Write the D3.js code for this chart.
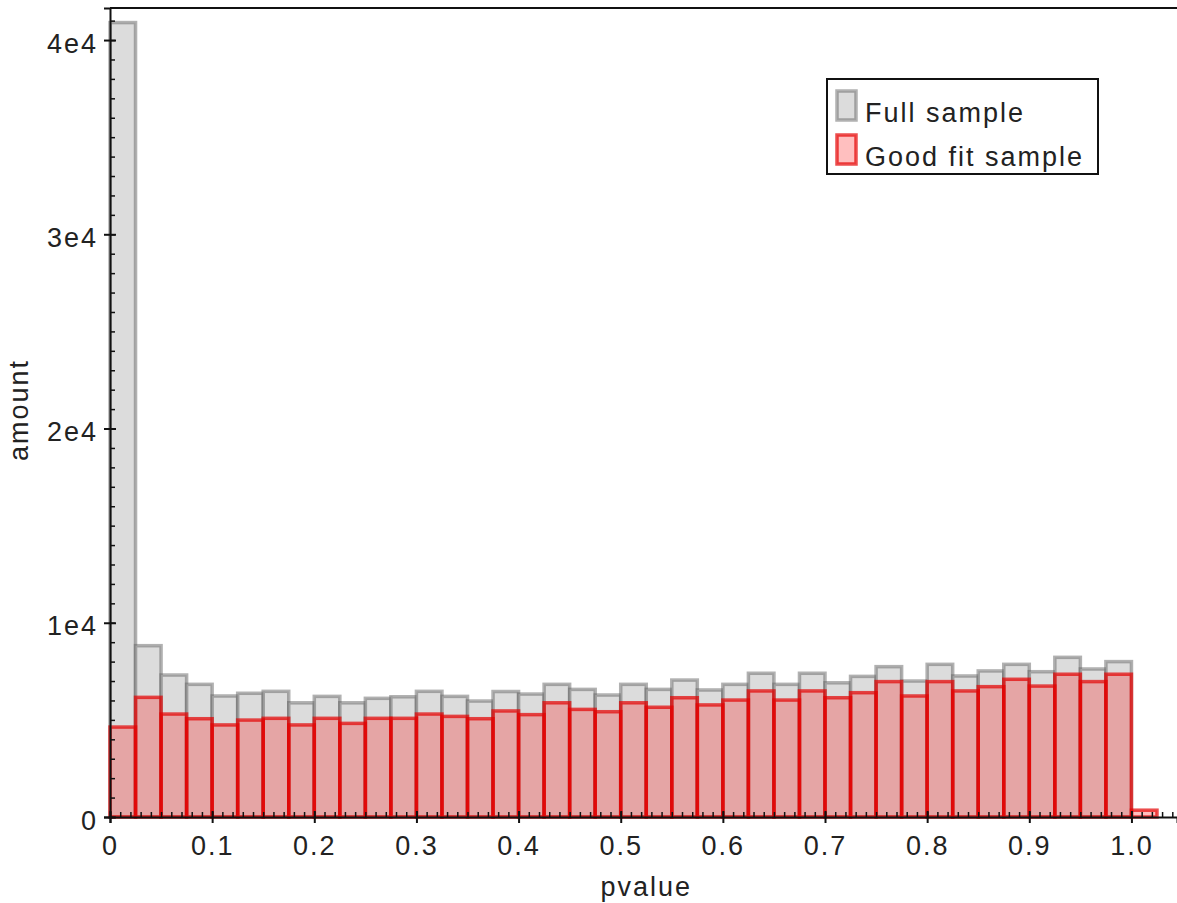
<!DOCTYPE html>
<html>
<head>
<meta charset="utf-8">
<script src="https://cdn.jsdelivr.net/npm/d3@7"></script>
<style>
  body { margin: 0; background: #fff; }
  svg text { font-family: "Liberation Sans", Arial, sans-serif; fill: #222; }
</style>
</head>
<body>
<div id="chart"></div>
<script>
// histogram of p-values, bins of width 0.025 starting at 0
const binWidth = 0.025;
const fullCounts = [
  40900, 8820, 7310, 6830, 6230, 6370, 6470, 5880, 6210, 5880,
  6110, 6190, 6470, 6210, 5970, 6460, 6330, 6830, 6570, 6280,
  6830, 6570, 7050, 6540, 6830, 7400, 6830, 7400, 6910, 7240,
  7740, 7000, 7860, 7260, 7520, 7860, 7480, 8220, 7620, 8000,
  0
];
const goodFitCounts = [
  4630, 6160, 5300, 5060, 4740, 4990, 5080, 4740, 5080, 4820,
  5080, 5080, 5300, 5180, 5060, 5460, 5270, 5880, 5540, 5420,
  5880, 5650, 6140, 5770, 6020, 6490, 6020, 6490, 6140, 6400,
  6970, 6230, 6970, 6490, 6710, 7090, 6740, 7350, 6970, 7350,
  350
];
const xTicks = [0, 0.1, 0.2, 0.3, 0.4, 0.5, 0.6, 0.7, 0.8, 0.9, 1.0];
const xTickLabels = ['0', '0.1', '0.2', '0.3', '0.4', '0.5', '0.6', '0.7', '0.8', '0.9', '1.0'];
const yTicks = [0, 10000, 20000, 30000, 40000];
const yTickLabels = ['0', '1e4', '2e4', '3e4', '4e4'];
const seriesNames = ['Full sample', 'Good fit sample'];

const width = 1177, height = 903;
const margin = { top: 8, right: 0, bottom: 86, left: 110 };
const plotW = width - margin.left - margin.right;
const plotH = height - margin.top - margin.bottom;

const svg = d3.select('#chart').append('svg')
    .attr('width', width)
    .attr('height', height);

const x = d3.scaleLinear().domain([0, 1.0446]).range([0, plotW]);
const y = d3.scaleLinear().domain([0, 41650]).range([plotH, 0]);

const chart = svg.append('g')
    .attr('transform', `translate(${margin.left},${margin.top})`);

const fontStyle = sel => sel
    .style('font-size', '27px')
    .style('letter-spacing', '2px');

const grayFill = '#dcdcdc', grayStroke = 'rgba(100,100,100,0.5)';
const redFill = 'rgba(255,0,0,0.25)', redStroke = 'rgba(228,0,0,0.7)';

function drawBars(data, cls, fill, stroke) {
  chart.selectAll('.' + cls)
      .data(data.map((v, i) => ({ i, v })).filter(d => d.v > 0))
      .enter()
      .append('rect')
      .classed(cls, true)
      .attr('x', d => x(d.i * binWidth))
      .attr('y', d => y(d.v))
      .attr('width', x(binWidth) - x(0))
      .attr('height', d => y(0) - y(d.v))
      .attr('fill', fill)
      .attr('stroke', stroke)
      .attr('stroke-width', 3.5);
}

drawBars(fullCounts, 'bar-full', grayFill, grayStroke);
drawBars(goodFitCounts, 'bar-good', redFill, redStroke);

// top frame line
chart.append('line')
    .attr('x1', 0).attr('x2', plotW)
    .attr('y1', 0).attr('y2', 0)
    .attr('stroke', '#111').attr('stroke-width', 2);

// x axis: major ticks crossing the line, minor ticks inside
const xMinor = d3.range(0, 105).map(k => k / 100);
chart.append('g')
    .attr('transform', `translate(0,${plotH})`)
    .call(d3.axisTop(x).tickValues(xMinor).tickSize(5).tickFormat(''))
    .call(g => g.select('.domain').remove())
    .call(g => g.selectAll('line').attr('stroke', '#111').attr('stroke-width', 1.5));

chart.append('g')
    .classed('x axis', true)
    .attr('transform', `translate(0,${plotH})`)
    .call(d3.axisBottom(x).tickValues(xTicks).tickSize(6).tickPadding(8)
        .tickFormat((d, i) => xTickLabels[i]))
    .call(g => g.select('.domain').attr('stroke', '#111').attr('stroke-width', 2))
    .call(g => g.selectAll('line').attr('stroke', '#111').attr('stroke-width', 2).attr('y1', -6))
    .call(g => g.selectAll('text').call(fontStyle).attr('dy', '0.9em'));

// y axis
const yMinor = d3.range(0, 42000, 1000);
chart.append('g')
    .call(d3.axisRight(y).tickValues(yMinor).tickSize(5).tickFormat(''))
    .call(g => g.select('.domain').remove())
    .call(g => g.selectAll('line').attr('stroke', '#111').attr('stroke-width', 1.5));

chart.append('g')
    .classed('y axis', true)
    .call(d3.axisLeft(y).tickValues(yTicks).tickSize(6).tickPadding(6)
        .tickFormat((d, i) => yTickLabels[i]))
    .call(g => g.select('.domain').attr('stroke', '#111').attr('stroke-width', 2))
    .call(g => g.selectAll('line').attr('stroke', '#111').attr('stroke-width', 2).attr('x1', 6))
    .call(g => g.selectAll('text').call(fontStyle).attr('dy', '0.45em'));

// axis titles
svg.append('text')
    .attr('x', margin.left + x(0.525))
    .attr('y', 896)
    .style('text-anchor', 'middle')
    .call(fontStyle)
    .text('pvalue');

svg.append('text')
    .attr('transform', `translate(28,410) rotate(-90)`)
    .style('text-anchor', 'middle')
    .call(fontStyle)
    .text('amount');

// legend
const legend = svg.append('g').attr('transform', 'translate(827,79)');
legend.append('rect')
    .attr('width', 271).attr('height', 95)
    .attr('fill', '#fff')
    .attr('stroke', '#111').attr('stroke-width', 2);

const legendItems = [
  { name: seriesNames[0], fill: grayFill, stroke: grayStroke },
  { name: seriesNames[1], fill: redFill, stroke: redStroke }
];
legendItems.forEach((d, i) => {
  const row = legend.append('g').attr('transform', `translate(0,${i * 44})`);
  row.append('rect')
      .attr('x', 10).attr('y', 12)
      .attr('width', 19).attr('height', 29)
      .attr('fill', d.fill)
      .attr('stroke', d.stroke).attr('stroke-width', 3.5);
  row.append('text')
      .attr('x', 38).attr('y', 43)
      .call(fontStyle)
      .text(d.name);
});
</script>
</body>
</html>
